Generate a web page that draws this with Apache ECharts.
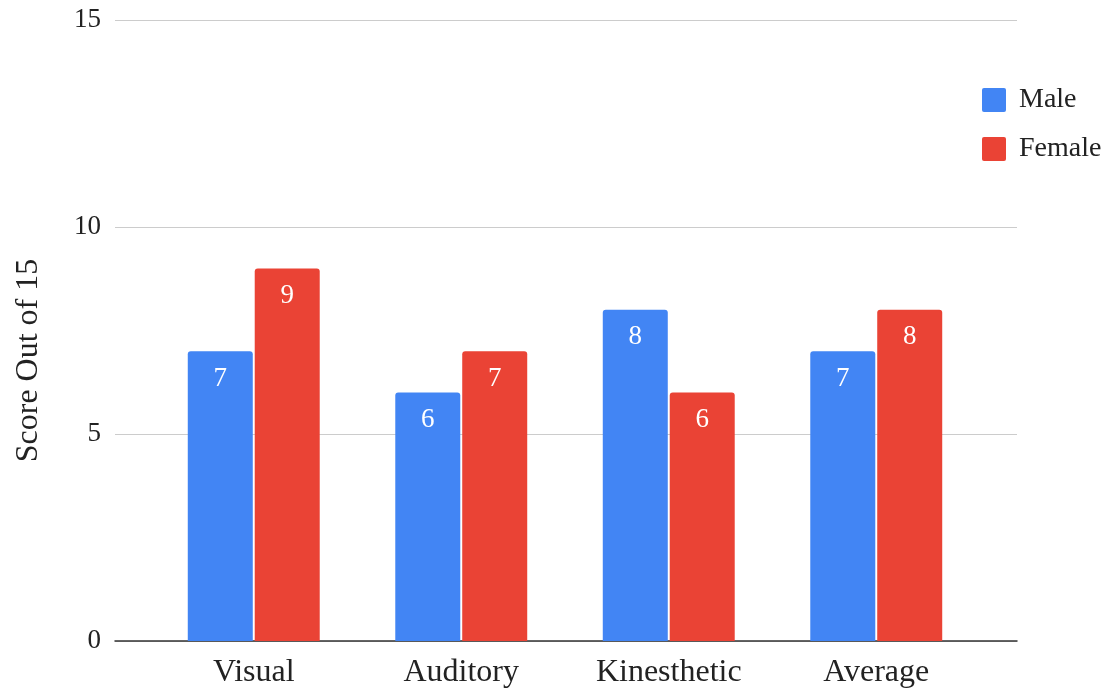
<!DOCTYPE html>
<html><head><meta charset="utf-8">
<script src="https://cdn.jsdelivr.net/npm/echarts@6/dist/echarts.min.js"></script>
<style>html,body{margin:0;padding:0;background:#fff}#c{width:1106px;height:691px}</style>
</head><body><div id="c"></div>
<script>
const categories = ['Visual', 'Auditory', 'Kinesthetic', 'Average'];
const maleValues = [7, 6, 8, 7];
const femaleValues = [9, 7, 6, 8];
const yTicks = [0, 5, 10, 15];
const seriesNames = ['Male', 'Female'];

const FONT = '"Liberation Serif", "DejaVu Serif", serif';
const chart = echarts.init(document.getElementById('c'));
const labelCfg = {show: true, position: 'insideTop', distance: 14, color: '#fff', fontSize: 27, fontFamily: FONT};
chart.setOption({
  animation: false,
  textStyle: {fontFamily: FONT},
  legend: {
    orient: 'vertical', left: 977, top: 81, itemWidth: 24, itemHeight: 24, itemGap: 21,
    icon: 'path://M2,0 L22,0 Q24,0 24,2 L24,22 Q24,24 22,24 L2,24 Q0,24 0,22 L0,2 Q0,0 2,0 Z',
    textStyle: {fontSize: 28, color: '#222', fontFamily: FONT, padding: [0, 0, 0, 8]},
    data: seriesNames
  },
  grid: [
    {left: 115, right: 89, top: 20, bottom: 50},
    {left: 150, right: 126, top: 20, bottom: 50}
  ],
  xAxis: [
    {gridIndex: 0, type: 'category', data: categories, axisLine: {lineStyle: {color: '#333', width: 1.5}},
     axisTick: {show: false}, axisLabel: {show: false}},
    {gridIndex: 1, type: 'category', data: categories, axisLine: {show: false}, axisTick: {show: false},
     axisLabel: {fontSize: 32, color: '#222', fontFamily: FONT, margin: 16}}
  ],
  yAxis: [
    {gridIndex: 0, type: 'value', min: yTicks[0], max: yTicks[yTicks.length - 1], interval: 5,
     name: 'Score Out of 15', nameLocation: 'middle', nameGap: 70, nameRotate: 90,
     nameTextStyle: {fontSize: 32, color: '#222', fontFamily: FONT, padding: [0, 60, 0, 0]},
     axisLabel: {fontSize: 27, color: '#222', fontFamily: FONT, margin: 14},
     axisLine: {show: false}, axisTick: {show: false},
     splitLine: {lineStyle: {color: '#ccc', width: 1}}},
    {gridIndex: 1, type: 'value', min: 0, max: 15, interval: 5, show: false, splitLine: {show: false}}
  ],
  series: [
    {name: seriesNames[0], type: 'bar', xAxisIndex: 1, yAxisIndex: 1, data: maleValues,
     barWidth: 65, barGap: '3%', itemStyle: {color: '#4285F4', borderRadius: [3, 3, 0, 0]}, label: labelCfg},
    {name: seriesNames[1], type: 'bar', xAxisIndex: 1, yAxisIndex: 1, data: femaleValues,
     barWidth: 65, barGap: '3%', itemStyle: {color: '#EA4335', borderRadius: [3, 3, 0, 0]}, label: labelCfg}
  ]
});
</script></body></html>
